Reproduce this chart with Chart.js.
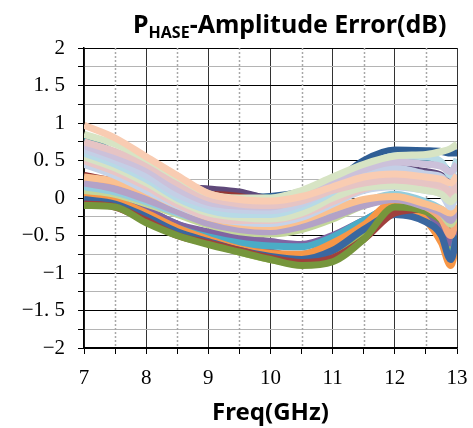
<!DOCTYPE html>
<html>
<head>
<meta charset="utf-8">
<script src="https://cdn.jsdelivr.net/npm/chart.js@4.4.1/dist/chart.umd.min.js"></script>
<style>
  body { margin: 0; background: #fff; }
  #wrap { position: relative; width: 473px; height: 428px; }
  #title { position: absolute; left: 133px; top: 6px; white-space: nowrap;
           font: bold 25px "Noto Sans", "Open Sans", sans-serif; color: #000; }
  #title sub { font-size: 16px; vertical-align: -5px; }
</style>
</head>
<body>
<div id="wrap">
  <canvas id="phaseAmpChart" width="473" height="428"></canvas>
  <div id="title">P<sub>HASE</sub>-Amplitude Error(dB)</div>
</div>
<script>
// frequency points (GHz)
const freqs = [7, 7.5, 8, 8.5, 9, 9.5, 10, 10.5, 11, 11.5, 12, 12.5, 12.75, 12.9, 13];

// amplitude error per phase state (dB), lower bundle
const state01 = [0.15, 0.05, -0.15, -0.35, -0.5, -0.65, -0.75, -0.75, -0.6, -0.35, -0.22, -0.3, -0.48, -0.7, -0.45];
const state02 = [0.05, -0.02, -0.18, -0.38, -0.55, -0.66, -0.72, -0.8, -0.68, -0.45, -0.2, -0.15, -0.3, -0.5, -0.35];
const state03 = [-0.05, -0.1, -0.3, -0.48, -0.6, -0.72, -0.82, -0.88, -0.75, -0.45, -0.1, -0.25, -0.45, -0.7, -0.3];
const state04 = [0.1, 0.02, -0.15, -0.35, -0.45, -0.52, -0.58, -0.62, -0.5, -0.3, -0.12, -0.25, -0.4, -0.6, -0.4];
const state05 = [0.0, -0.05, -0.22, -0.4, -0.52, -0.6, -0.64, -0.65, -0.52, -0.3, -0.12, -0.3, -0.55, -0.8, -0.5];
const state06 = [0.05, -0.03, -0.2, -0.4, -0.55, -0.68, -0.74, -0.75, -0.6, -0.36, -0.05, -0.3, -0.6, -0.9, -0.55];
const state07 = [-0.02, -0.08, -0.25, -0.45, -0.58, -0.7, -0.78, -0.82, -0.7, -0.42, -0.22, -0.32, -0.5, -0.82, -0.5];
const state08 = [-0.08, -0.12, -0.3, -0.5, -0.6, -0.7, -0.8, -0.86, -0.8, -0.55, -0.2, -0.15, -0.25, -0.4, -0.3];
const state09 = [-0.1, -0.12, -0.33, -0.5, -0.62, -0.72, -0.82, -0.9, -0.85, -0.55, -0.12, -0.18, -0.3, -0.45, -0.2];
// upper bundle
const state10 = [0.55, 0.42, 0.25, 0.12, 0.02, 0.0, 0.02, 0.08, 0.2, 0.5, 0.64, 0.63, 0.62, 0.6, 0.6];
const state11 = [0.82, 0.6, 0.4, 0.2, 0.08, 0.06, 0.0, 0.02, 0.15, 0.4, 0.55, 0.5, 0.45, 0.35, 0.45];
const state12 = [0.45, 0.35, 0.25, 0.15, 0.12, 0.08, -0.02, -0.05, 0.05, 0.25, 0.4, 0.35, 0.3, 0.2, 0.3];
const state13 = [0.3, 0.22, 0.12, 0.08, 0.05, 0.02, -0.08, -0.1, 0.0, 0.2, 0.35, 0.3, 0.25, 0.15, 0.25];
const state14 = [0.25, 0.15, 0.05, 0.0, -0.02, -0.05, -0.12, -0.15, -0.05, 0.15, 0.3, 0.25, 0.2, 0.1, 0.2];
const state15 = [0.22, 0.18, 0.05, -0.12, -0.28, -0.38, -0.42, -0.35, -0.2, -0.05, 0.0, -0.12, -0.28, -0.5, -0.25];
const state16 = [0.1, 0.05, -0.08, -0.22, -0.36, -0.45, -0.48, -0.42, -0.28, -0.1, 0.0, -0.1, -0.2, -0.35, -0.2];
const state17 = [0.15, 0.08, -0.05, -0.2, -0.32, -0.4, -0.4, -0.35, -0.2, -0.05, 0.05, -0.05, -0.15, -0.25, -0.1];
const state18 = [0.2, 0.12, -0.02, -0.18, -0.34, -0.42, -0.45, -0.38, -0.25, -0.1, -0.02, -0.12, -0.2, -0.3, -0.15];
const state19 = [0.28, 0.22, 0.08, -0.1, -0.26, -0.35, -0.38, -0.3, -0.15, -0.02, 0.02, -0.08, -0.15, -0.2, -0.1];
const state20 = [0.45, 0.3, 0.1, -0.1, -0.25, -0.32, -0.34, -0.26, -0.08, 0.1, 0.15, 0.1, 0.05, -0.12, 0.1];
const state21 = [0.5, 0.35, 0.15, -0.08, -0.25, -0.3, -0.3, -0.22, -0.05, 0.12, 0.2, 0.15, 0.12, 0.0, 0.1];
const state22 = [0.55, 0.4, 0.2, -0.03, -0.2, -0.26, -0.28, -0.2, 0.0, 0.14, 0.16, 0.1, 0.05, -0.05, 0.05];
const state23 = [0.6, 0.45, 0.25, 0.0, -0.16, -0.22, -0.22, -0.12, 0.08, 0.38, 0.56, 0.55, 0.48, 0.3, 0.52];
const state24 = [0.65, 0.5, 0.3, 0.05, -0.1, -0.16, -0.17, -0.08, 0.12, 0.3, 0.4, 0.32, 0.28, 0.15, 0.32];
const state25 = [0.7, 0.55, 0.38, 0.12, -0.06, -0.11, -0.12, 0.0, 0.2, 0.38, 0.48, 0.45, 0.42, 0.35, 0.45];
const state26 = [0.75, 0.62, 0.45, 0.2, 0.0, -0.08, -0.1, -0.04, 0.1, 0.2, 0.24, 0.2, 0.18, 0.08, 0.2];
const state27 = [0.85, 0.72, 0.52, 0.28, 0.06, 0.0, 0.0, 0.1, 0.28, 0.45, 0.56, 0.58, 0.62, 0.66, 0.72];
const state28 = [0.97, 0.8, 0.55, 0.3, 0.06, -0.02, -0.04, 0.02, 0.15, 0.28, 0.32, 0.28, 0.25, 0.2, 0.3];

const states = [state01, state02, state03, state04, state05, state06, state07, state08, state09,
                state10, state11, state12, state13, state14, state15, state16, state17, state18, state19,
                state20, state21, state22, state23, state24, state25, state26, state27, state28];

const colors = ['#4F81BD', '#C0504D', '#9BBB59', '#8064A2', '#4BACC6', '#F79646', '#3A67A0', '#A0403D', '#76963C',
                '#2F5E95', '#31859C', '#5F497A', '#953735', '#77933C', '#F4A77C', '#C3D69B', '#93CDDD', '#B3A2C7', '#FAC090',
                '#C6D3E8', '#E8C6C6', '#D6E3C4', '#B7DAE6', '#C4CFE6', '#CCC1DA', '#E6C4C4', '#D7E4C4', '#F9CCB2'];

const xMajor = [7, 8, 9, 10, 11, 12, 13];
const xHalf = [7.5, 8.5, 9.5, 10.5, 11.5, 12.5];

// dotted grid lines at the half-GHz ticks
const halfGrid = {
    id: 'halfGrid',
    beforeDatasetsDraw(chart) {
        const { ctx, chartArea, scales } = chart;
        ctx.save();
        ctx.strokeStyle = '#a8a8a8';
        ctx.lineWidth = 1.5;
        ctx.setLineDash([2, 2]);
        xHalf.forEach(v => {
            const px = Math.round(scales.x.getPixelForValue(v)) + 0.5;
            ctx.beginPath();
            ctx.moveTo(px, chartArea.top);
            ctx.lineTo(px, chartArea.bottom);
            ctx.stroke();
        });
        ctx.restore();
    }
};

const isMulti = (v, s) => Math.abs(v / s - Math.round(v / s)) < 1e-6;

new Chart(document.getElementById('phaseAmpChart').getContext('2d'), {
    type: 'line',
    data: {
        datasets: states.map((s, i) => ({
            label: 'State ' + (i + 1),
            data: s.map((y, k) => ({ x: freqs[k], y: y })),
            borderColor: colors[i],
            backgroundColor: colors[i],
            borderWidth: 7,
            pointRadius: 0,
            tension: 0.4,
            cubicInterpolationMode: 'monotone',
            order: states.length - i,   // later states drawn on top
            fill: false
        }))
    },
    options: {
        responsive: false,
        animation: false,
        layout: { autoPadding: false, padding: { top: 48, right: 16, left: 0, bottom: 0 } },
        plugins: { legend: { display: false }, tooltip: { enabled: false }, title: { display: false } },
        scales: {
            x: {
                type: 'linear',
                min: 7, max: 13,
                afterBuildTicks: s => { s.ticks = [...xMajor, ...xHalf].sort((a, b) => a - b).map(v => ({ value: v })); },
                grid: {
                    color: c => isMulti(c.tick.value, 1) ? '#333' : 'rgba(0,0,0,0)',
                    tickColor: '#000',
                    tickLength: 6,
                    lineWidth: 1
                },
                border: { color: '#000', width: 1.5 },
                ticks: {
                    autoSkip: false,
                    maxRotation: 0,
                    padding: 12,
                    color: '#000',
                    font: { family: '"Liberation Serif", "DejaVu Serif", serif', size: 21 },
                    callback: v => isMulti(v, 1) ? String(v) : ''
                },
                title: {
                    display: true,
                    text: 'Freq(GHz)',
                    color: '#000',
                    font: { family: '"Noto Sans", "Open Sans", sans-serif', size: 24, weight: 'bold' },
                    padding: { top: 1, bottom: 0 }
                },
                afterFit: s => { s.height = 80; s.paddingLeft = 0; s.paddingRight = 0; }
            },
            y: {
                min: -2, max: 2,
                ticks: {
                    stepSize: 0.25,
                    autoSkip: false,
                    padding: 13,
                    color: '#000',
                    font: { family: '"Liberation Serif", "DejaVu Serif", serif', size: 21 },
                    callback: v => isMulti(v, 0.5) ? String(v).replace('-', '\u2212').replace('.', '. ') : ''
                },
                grid: {
                    color: c => isMulti(c.tick.value, 0.5) ? '#000' : '#b4b4b4',
                    tickColor: '#000',
                    tickLength: 6,
                    lineWidth: 1
                },
                border: { color: '#000', width: 1.5 },
                afterFit: s => { s.width = 84; }
            }
        }
    },
    plugins: [halfGrid]
});
</script>
</body>
</html>
